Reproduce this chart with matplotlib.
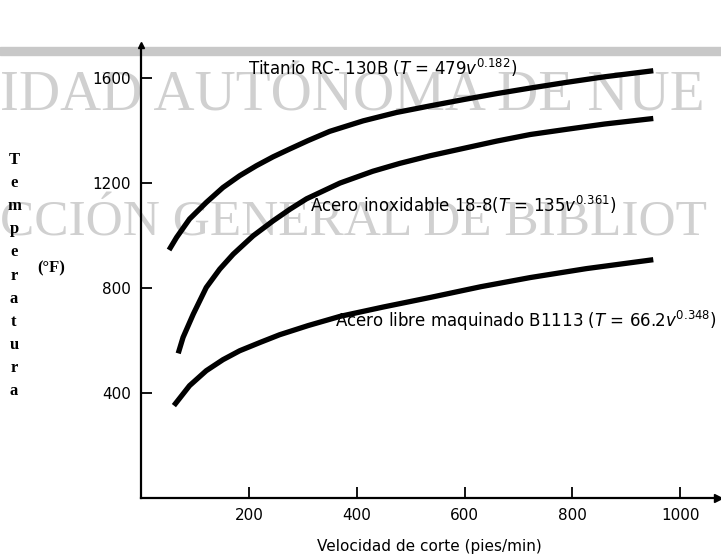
import matplotlib
matplotlib.use("Agg")
import matplotlib.pyplot as plt
from matplotlib.patches import Rectangle

plt.rcParams['font.family'] = ['DejaVu Sans']
plt.rcParams['mathtext.fontset'] = 'dejavusans'

# values (velocidad en pies/min, temperatura en °F)
v_titanio = [52, 66, 90, 121, 152, 183, 214, 245, 276, 310, 350, 412, 474, 536, 598, 660, 722, 790, 860, 950]
t_titanio = [945, 993, 1063, 1126, 1183, 1228, 1266, 1300, 1330, 1362, 1397, 1437, 1469, 1494, 1518, 1541, 1562, 1584, 1605, 1628]

v_inox = [69, 78, 97, 121, 146, 171, 208, 245, 276, 307, 369, 430, 480, 536, 600, 660, 722, 790, 860, 950]
t_inox = [551, 612, 701, 802, 872, 929, 999, 1056, 1100, 1140, 1200, 1245, 1275, 1304, 1333, 1360, 1385, 1405, 1425, 1446]

v_libre = [61, 90, 121, 152, 183, 220, 257, 310, 369, 450, 536, 630, 722, 826, 950]
t_libre = [352, 428, 485, 527, 561, 592, 622, 657, 692, 728, 764, 805, 840, 874, 908]

x_ticks = [200, 400, 600, 800, 1000]
y_ticks = [400, 800, 1200, 1600]

W, H = 721, 557
fig = plt.figure(figsize=(W / 100, H / 100), dpi=100)

# watermark of the scan, behind everything
wm = "#d0d0d0"
fig.patches.append(Rectangle((0, 1 - 55 / H), 1, 8 / H, transform=fig.transFigure,
                             color="#c8c8c8", zorder=-5))
fig.text(0.0, 1 - 110 / H, "IDAD AUTÓNOMA DE NUE", family="Liberation Serif",
         fontsize=41, color=wm, zorder=-5, va="baseline")
fig.text(0.0, 1 - 236 / H, "CCIÓN GENERAL DE BIBLIOT", family="Liberation Serif",
         fontsize=37, color=wm, zorder=-5, va="baseline")

ax = fig.add_axes([141 / W, 1 - 498 / H, (718 - 141) / W, (498 - 45) / H])
ax.patch.set_alpha(0)

for v, t in [(v_titanio, t_titanio), (v_inox, t_inox), (v_libre, t_libre)]:
    ax.plot(v, t, color="black", lw=3.8, solid_capstyle="butt", solid_joinstyle="round")

ax.set_xlim(0, 1070)
ax.set_ylim(0, 1726)
ax.set_xticks(x_ticks)
ax.set_yticks(y_ticks)
ax.tick_params(direction="in", length=8, width=1.3, labelsize=11, pad=7)
for s in ["top", "right"]:
    ax.spines[s].set_visible(False)
for s in ["left", "bottom"]:
    ax.spines[s].set_linewidth(1.6)
ax.plot(1, 0, ">k", ms=6, transform=ax.transAxes, clip_on=False)
ax.plot(0, 1, "^k", ms=5, transform=ax.transAxes, clip_on=False)

ax.set_xlabel("Velocidad de corte (pies/min)", fontsize=11, labelpad=12)

ax.text(198, 1639, r"Titanio RC- 130B ($T$ = 479$v^{0.182}$)", fontsize=12, va="center")
ax.text(313, 1117, r"Acero inoxidable 18-8($T$ = 135$v^{0.361}$)", fontsize=12, va="center")
ax.text(360, 676, r"Acero libre maquinado B1113 ($T$ = 66.2$v^{0.348}$)", fontsize=12,
        va="center")

# vertical stacked axis title
for i, ch in enumerate("Temperatura"):
    fig.text(14 / W, 1 - (160 + i * 23.1) / H, ch, family="Liberation Serif",
             fontweight="bold", fontsize=12, ha="center", va="center")
fig.text(51 / W, 1 - 268 / H, "(°F)", family="Liberation Serif", fontweight="bold",
         fontsize=12, ha="center", va="center")

fig.savefig("out.png", dpi=100)
